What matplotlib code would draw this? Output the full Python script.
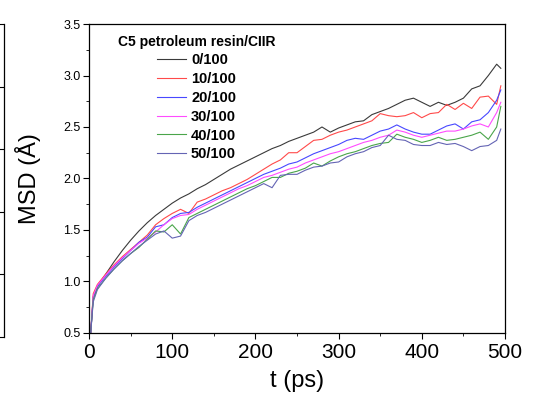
import numpy as np
import matplotlib
matplotlib.use('Agg')
import matplotlib.pyplot as plt
from matplotlib.ticker import MultipleLocator

plt.rcParams['font.family'] = ['Liberation Sans', 'DejaVu Sans']

# time axis (ps)
t = [2, 5] + list(range(10, 500, 10)) + [495]

msd_0 = [0.50, 0.85, 0.95, 1.07, 1.19, 1.30, 1.40, 1.49, 1.57, 1.64, 1.70, 1.76,
         1.81, 1.85, 1.90, 1.94, 1.99, 2.04, 2.09, 2.13, 2.17, 2.21, 2.25, 2.29,
         2.32, 2.36, 2.39, 2.42, 2.45, 2.50, 2.45, 2.49, 2.52, 2.55, 2.56, 2.62,
         2.65, 2.68, 2.72, 2.76, 2.78, 2.74, 2.70, 2.74, 2.71, 2.74, 2.78, 2.87,
         2.90, 3.00, 3.11, 3.07]
msd_10 = [0.50, 0.88, 0.97, 1.07, 1.16, 1.24, 1.31, 1.38, 1.45, 1.55, 1.61, 1.66,
          1.70, 1.66, 1.77, 1.80, 1.84, 1.88, 1.91, 1.95, 1.99, 2.04, 2.09, 2.14,
          2.18, 2.25, 2.25, 2.31, 2.37, 2.38, 2.42, 2.45, 2.47, 2.50, 2.53, 2.56,
          2.63, 2.61, 2.60, 2.61, 2.64, 2.59, 2.63, 2.64, 2.72, 2.67, 2.73, 2.68,
          2.79, 2.80, 2.72, 2.90]
msd_20 = [0.50, 0.84, 0.95, 1.05, 1.14, 1.22, 1.30, 1.38, 1.43, 1.53, 1.55, 1.62,
          1.66, 1.67, 1.72, 1.76, 1.80, 1.84, 1.88, 1.92, 1.96, 2.00, 2.04, 2.07,
          2.10, 2.14, 2.16, 2.20, 2.24, 2.27, 2.30, 2.33, 2.37, 2.39, 2.38, 2.42,
          2.46, 2.48, 2.52, 2.48, 2.45, 2.43, 2.43, 2.47, 2.51, 2.53, 2.48, 2.55,
          2.57, 2.64, 2.76, 2.86]
msd_30 = [0.50, 0.86, 0.96, 1.06, 1.15, 1.23, 1.30, 1.37, 1.42, 1.48, 1.55, 1.61,
          1.64, 1.65, 1.70, 1.74, 1.78, 1.82, 1.86, 1.90, 1.93, 1.97, 2.01, 2.03,
          2.06, 2.09, 2.11, 2.15, 2.18, 2.21, 2.24, 2.26, 2.29, 2.32, 2.35, 2.37,
          2.40, 2.42, 2.47, 2.45, 2.42, 2.40, 2.42, 2.44, 2.46, 2.46, 2.48, 2.51,
          2.53, 2.50, 2.64, 2.74]
msd_40 = [0.50, 0.82, 0.93, 1.03, 1.12, 1.20, 1.27, 1.33, 1.41, 1.49, 1.48, 1.55,
          1.46, 1.62, 1.66, 1.70, 1.74, 1.78, 1.82, 1.86, 1.90, 1.93, 1.97, 2.01,
          2.01, 2.05, 2.07, 2.10, 2.15, 2.12, 2.17, 2.21, 2.24, 2.26, 2.29, 2.32,
          2.34, 2.35, 2.43, 2.40, 2.38, 2.35, 2.37, 2.40, 2.37, 2.38, 2.40, 2.42,
          2.45, 2.38, 2.50, 2.70]
msd_50 = [0.50, 0.80, 0.92, 1.03, 1.12, 1.20, 1.27, 1.34, 1.40, 1.46, 1.49, 1.42,
          1.44, 1.59, 1.64, 1.67, 1.71, 1.75, 1.79, 1.83, 1.87, 1.91, 1.95, 1.91,
          2.03, 2.04, 2.04, 2.08, 2.11, 2.12, 2.15, 2.16, 2.21, 2.24, 2.26, 2.30,
          2.32, 2.42, 2.38, 2.37, 2.33, 2.32, 2.32, 2.35, 2.33, 2.34, 2.31, 2.27,
          2.31, 2.32, 2.37, 2.48]

labels = ['0/100', '10/100', '20/100', '30/100', '40/100', '50/100']
colors = ['#3a3a3a', '#ff4a4a', '#4848ff', '#ff4cff', '#4aa54a', '#6464b4']
series = [msd_0, msd_10, msd_20, msd_30, msd_40, msd_50]

fig = plt.figure(figsize=(5.43, 4.01), dpi=100)
ax = fig.add_axes([0.164, 0.170, 0.766, 0.770])

for y, lab, c in zip(series, labels, colors):
    ax.plot(t, y, color=c, lw=0.8, label=lab)

ax.set_xlim(0, 500)
ax.set_ylim(0.5, 3.5)
ax.xaxis.set_major_locator(MultipleLocator(100))
ax.xaxis.set_minor_locator(MultipleLocator(50))
ax.yaxis.set_major_locator(MultipleLocator(0.5))
ax.yaxis.set_minor_locator(MultipleLocator(0.25))
ax.yaxis.set_major_formatter(plt.FormatStrFormatter('%.1f'))
ax.tick_params(axis='x', which='major', labelsize=15, length=4, direction='out', pad=3)
ax.tick_params(axis='y', which='major', labelsize=9, length=4, direction='out', pad=2)
ax.tick_params(which='minor', length=2.5, direction='out')
for s in ax.spines.values():
    s.set_linewidth(0.9)

ax.set_xlabel('t (ps)', fontsize=17, labelpad=6)
ax.set_ylabel('MSD (Å)', fontsize=17, labelpad=16)

leg = ax.legend(title='C5 petroleum resin/CIIR', loc='upper left',
                bbox_to_anchor=(0.055, 0.985), frameon=False,
                prop={'weight': 'bold', 'size': 10.5}, handlelength=2.0,
                handletextpad=0.35, labelspacing=0.33, borderaxespad=0)
leg.get_title().set_fontweight('bold')
leg.get_title().set_fontsize(10)

# edge of the neighbouring panel on the left
ax2 = fig.add_axes([-0.05, 0.160, 0.058, 0.780])
ax2.set_xlim(0, 1)
ax2.set_ylim(0, 5)
for side in ['left', 'top', 'bottom']:
    ax2.spines[side].set_visible(False)
ax2.spines['right'].set_linewidth(0.9)
ax2.set_xticks([])
ax2.yaxis.tick_right()
ax2.yaxis.set_major_locator(MultipleLocator(1))
ax2.tick_params(axis='y', direction='in', length=4, labelright=False)

fig.savefig('out.png', dpi=100)
